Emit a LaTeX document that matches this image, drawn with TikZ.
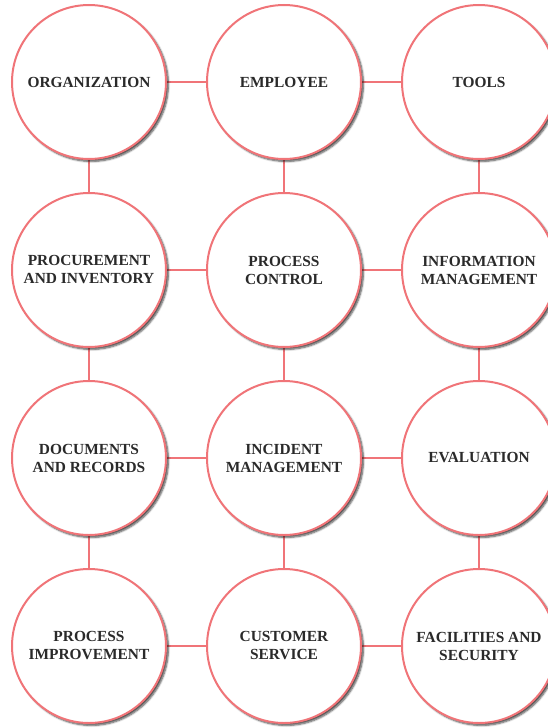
\documentclass[tikz,border=0pt]{standalone}
\usepackage{fontspec}
\setmainfont{Liberation Serif}
\usepackage{xcolor}
\usepackage{tikz}
\usetikzlibrary{positioning,backgrounds,shadows.blur}
\definecolor{ringred}{HTML}{F07478}
\definecolor{labelgray}{HTML}{2A2A2A}

\begin{document}
\begin{tikzpicture}[x=1pt, y=1pt,
  node distance=32pt and 39pt,
  ring/.style={circle, draw=ringred, line width=2pt, fill=white,
               minimum size=154pt, inner sep=0pt, align=center,
               text=labelgray,
               font=\fontsize{15.4}{18}\selectfont\bfseries,
               blur shadow={shadow xshift=2.4pt, shadow yshift=-2.4pt,
                            shadow blur steps=6, shadow opacity=70}},
  link/.style={color=ringred, line width=2pt}]
\useasboundingbox (0,0) rectangle (547,-728);
% top row
\node[ring] (org) at (89,-82) {ORGANIZATION};
\node[ring, right=of org] (emp) {EMPLOYEE};
\node[ring, right=of emp] (tools) {TOOLS};
% second row
\node[ring, below=of org] (proc) {PROCUREMENT\\AND INVENTORY};
\node[ring, right=of proc] (pctl) {PROCESS\\CONTROL};
\node[ring, right=of pctl] (info) {INFORMATION\\MANAGEMENT};
% third row
\node[ring, below=of proc] (docs) {DOCUMENTS\\AND RECORDS};
\node[ring, right=of docs] (incid) {INCIDENT\\MANAGEMENT};
\node[ring, right=of incid] (eval) {EVALUATION};
% bottom row
\node[ring, below=of docs] (pimp) {PROCESS\\IMPROVEMENT};
\node[ring, right=of pimp] (cust) {CUSTOMER\\SERVICE};
\node[ring, right=of cust] (fac) {FACILITIES AND\\SECURITY};
% links along rows and columns, kept under the rings
\begin{scope}[on background layer]
\foreach \a/\b in {org/emp, emp/tools, proc/pctl, pctl/info,
                   docs/incid, incid/eval, pimp/cust, cust/fac,
                   org/proc, proc/docs, docs/pimp,
                   emp/pctl, pctl/incid, incid/cust,
                   tools/info, info/eval, eval/fac}
  \draw[link] (\a.center) -- (\b.center);
\end{scope}
\end{tikzpicture}
\end{document}
